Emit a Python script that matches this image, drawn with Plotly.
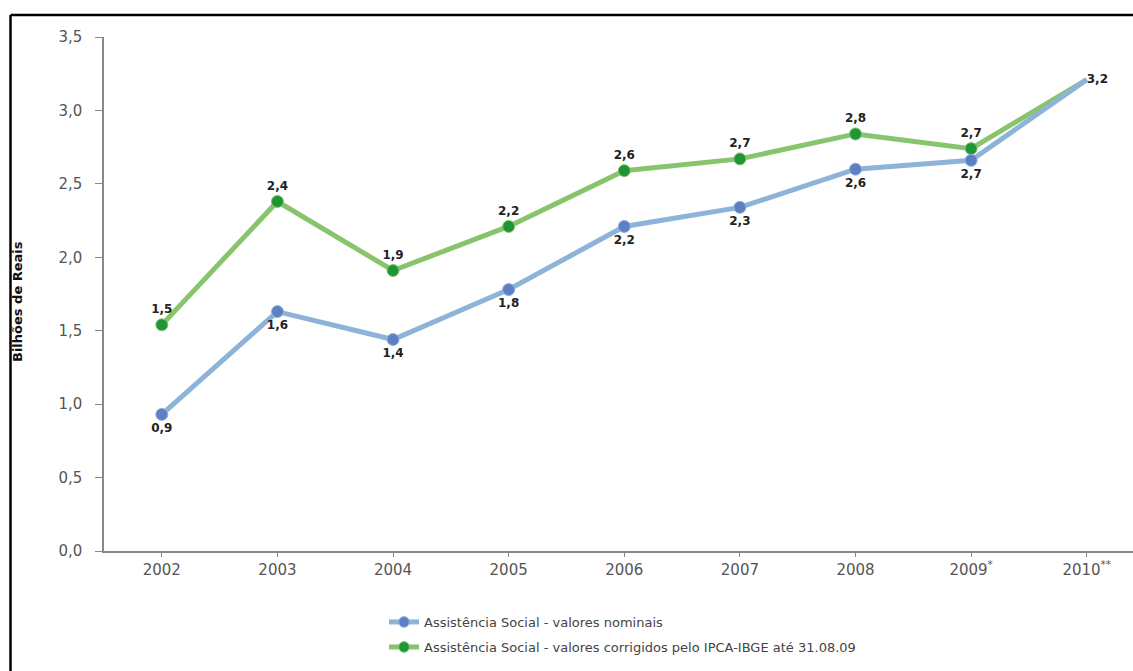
import plotly.graph_objects as go

# Assistência Social spending, billions of reais
anos = ["2002", "2003", "2004", "2005", "2006", "2007", "2008",
        "2009<sup>*</sup>", "2010<sup>**</sup>"]
nominais = [0.93, 1.63, 1.44, 1.78, 2.21, 2.34, 2.60, 2.66, 3.21]
corrigidos = [1.54, 2.38, 1.91, 2.21, 2.59, 2.67, 2.84, 2.74, 3.21]
y_ticks = [0.0, 0.5, 1.0, 1.5, 2.0, 2.5, 3.0, 3.5]

LABEL_FONT = dict(family="DejaVu Sans", size=12, color="#222222", weight="bold")
TICK_FONT = dict(family="DejaVu Sans", size=15, color="#555555")
LEGEND_FONT = dict(family="DejaVu Sans", size=13, color="#444444")

n = len(anos)
fig = go.Figure()

# corrected series (drawn first so the nominal line sits on top)
fig.add_trace(go.Scatter(
    x=list(range(n)), y=corrigidos,
    mode="lines+markers+text",
    name="Assistência Social - valores corrigidos pelo IPCA-IBGE até 31.08.09",
    line=dict(color="#88c46c", width=5),
    marker=dict(color="#1f9636", size=[12] * (n - 1) + [0], opacity=1),
    texttemplate="%{y:.1f}",
    textposition=["top center"] * (n - 1) + ["middle right"],
    textfont=LABEL_FONT,
    legend="legend2",
    cliponaxis=False,
))

# nominal series
fig.add_trace(go.Scatter(
    x=list(range(n)), y=nominais,
    mode="lines+markers+text",
    name="Assistência Social - valores nominais",
    line=dict(color="#8db3d8", width=5),
    marker=dict(color="#5f7fc4", size=[12] * (n - 1) + [0], opacity=1),
    texttemplate=["%{y:.1f}"] * (n - 1) + [""],
    textposition="bottom center",
    textfont=LABEL_FONT,
    legend="legend",
    cliponaxis=False,
))

legend_x = (384 - 104) / 1029
fig.update_layout(
    width=1133, height=671,
    margin=dict(l=104, r=0, t=37, b=120),
    paper_bgcolor="white", plot_bgcolor="white",
    separators=",.",
    showlegend=True,
    legend=dict(
        x=legend_x, y=(551 - 622) / 514, xanchor="left", yanchor="middle",
        font=LEGEND_FONT, bgcolor="rgba(0,0,0,0)",
    ),
    legend2=dict(
        x=legend_x, y=(551 - 647) / 514, xanchor="left", yanchor="middle",
        font=LEGEND_FONT, bgcolor="rgba(0,0,0,0)",
    ),
    xaxis=dict(
        tickmode="array", tickvals=list(range(n)), ticktext=anos,
        range=[-0.5, n - 0.6],
        showgrid=False, zeroline=False,
        showline=True, linecolor="#888888", linewidth=1.5,
        ticks="outside", ticklen=4, tickcolor="#888888",
        tickson="boundaries",
        tickfont=TICK_FONT,
    ),
    yaxis=dict(
        range=[0, 3.5], tickvals=y_ticks, tickformat=".1f",
        showgrid=False, zeroline=False,
        showline=True, linecolor="#888888", linewidth=1.5,
        ticks="outside", ticklen=7, tickcolor="#888888",
        ticklabelstandoff=10,
        tickfont=TICK_FONT,
    ),
    annotations=[dict(
        text="Bilhões de Reais", textangle=-90,
        xref="paper", yref="paper",
        x=(17 - 104) / 1029, y=(551 - 302) / 514,
        xanchor="center", yanchor="middle",
        showarrow=False,
        font=dict(family="DejaVu Sans", size=13, color="#111111", weight="bold"),
    )],
    shapes=[
        dict(type="line", xref="paper", yref="paper",
             x0=(10.5 - 104) / 1029, x1=(10.5 - 104) / 1029,
             y0=(551 - 15) / 514, y1=(551 - 700) / 514,
             line=dict(color="black", width=2.5)),
        dict(type="line", xref="paper", yref="paper",
             x0=(10.5 - 104) / 1029, x1=1.1,
             y0=(551 - 15) / 514, y1=(551 - 15) / 514,
             line=dict(color="black", width=2.5)),
    ],
)

fig.write_html("out.html")
